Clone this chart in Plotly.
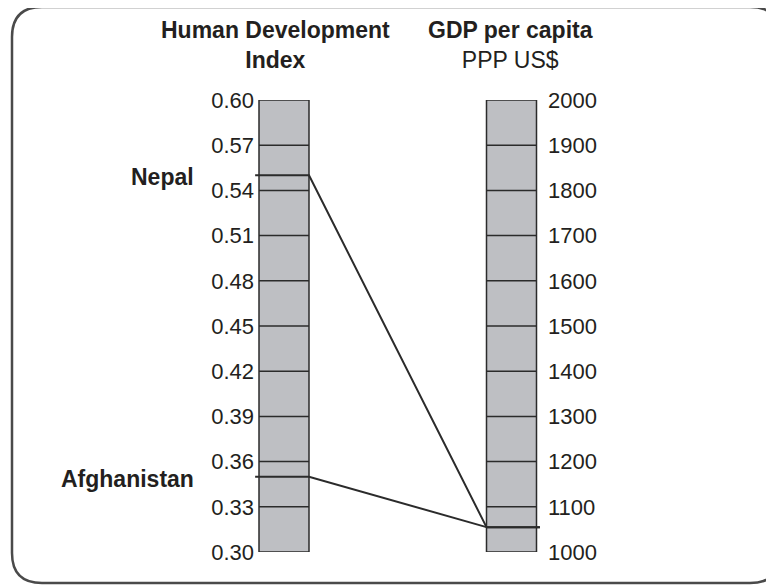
import plotly.graph_objects as go

# ---- data ----
hdi_ticks = [0.30, 0.33, 0.36, 0.39, 0.42, 0.45, 0.48, 0.51, 0.54, 0.57, 0.60]
gdp_ticks = [1000, 1100, 1200, 1300, 1400, 1500, 1600, 1700, 1800, 1900, 2000]
countries = ["Nepal", "Afghanistan"]
country_hdi = [0.55, 0.35]
country_gdp = [1055, 1055]

hdi_range = [0.30, 0.60]
gdp_range = [1000, 2000]

W, H = 774, 585
OFF = 8  # page body margin
FONT = "Liberation Sans, Arial, sans-serif"
TXT = "#231f20"
LINE = "#2b2b2b"
FILL = "#bebfc3"


def px(x):
    return (x - OFF) / W


def py(y):
    return 1 - (y - OFF) / H


# x positions: 0 = HDI scale, 1 = GDP scale
px_per_unit = 227.5
x_left_px = 284.0 - OFF
xr = [-x_left_px / px_per_unit, (W - x_left_px) / px_per_unit]
bw = 50 / px_per_unit
half = bw / 2


def gdp_to_hdi(v):
    return hdi_range[0] + (v - gdp_range[0]) / (gdp_range[1] - gdp_range[0]) * (hdi_range[1] - hdi_range[0])


fig = go.Figure()

# scale bars
fig.add_trace(go.Bar(x=[0], y=[hdi_range[1] - hdi_range[0]], base=[hdi_range[0]], width=bw,
                     marker=dict(color=FILL, line=dict(color=LINE, width=1.5)), yaxis="y",
                     hoverinfo="skip", showlegend=False))
fig.add_trace(go.Bar(x=[1], y=[gdp_range[1] - gdp_range[0]], base=[gdp_range[0]], width=bw,
                     marker=dict(color=FILL, line=dict(color=LINE, width=1.5)), yaxis="y2",
                     hoverinfo="skip", showlegend=False))

# internal tick lines
lx, ly = [], []
for t in hdi_ticks[1:-1]:
    lx += [-half, half, None]
    ly += [t, t, None]
fig.add_trace(go.Scatter(x=lx, y=ly, mode="lines", line=dict(color=LINE, width=1.5),
                         yaxis="y", hoverinfo="skip", showlegend=False))
rx, ry = [], []
for t in gdp_ticks[1:-1]:
    rx += [1 - half, 1 + half, None]
    ry += [t, t, None]
fig.add_trace(go.Scatter(x=rx, y=ry, mode="lines", line=dict(color=LINE, width=1.5),
                         yaxis="y2", hoverinfo="skip", showlegend=False))

# country lines
for name, h, g in zip(countries, country_hdi, country_gdp):
    fig.add_trace(go.Scatter(x=[-half - 0.017, half, 1 - half], y=[h, h, gdp_to_hdi(g)],
                             mode="lines", line=dict(color=LINE, width=2),
                             yaxis="y", hoverinfo="skip", showlegend=False))
    fig.add_trace(go.Scatter(x=[1 - half, 1 + half + 0.015], y=[g, g],
                             mode="lines", line=dict(color=LINE, width=2),
                             yaxis="y2", hoverinfo="skip", showlegend=False))
    fig.add_annotation(x=px(196), xref="paper", xanchor="right", y=h, yref="y",
                       yshift=-2, text=f"<b>{name}</b>", showarrow=False,
                       font=dict(family=FONT, size=23, color=TXT))

dom = [py(552), py(100)]

fig.update_layout(
    width=W, height=H, margin=dict(l=0, r=0, t=0, b=0, autoexpand=False),
    paper_bgcolor="white", plot_bgcolor="white", barmode="overlay",
    xaxis=dict(range=xr, visible=False, domain=[0, 1], fixedrange=True, automargin=False),
    yaxis=dict(range=hdi_range, domain=dom, anchor="free", position=px(259),
               showgrid=False, zeroline=False, showline=False, ticks="", automargin=False,
               tickvals=hdi_ticks, ticktext=[f"{t:.2f}" for t in hdi_ticks],
               tickfont=dict(family=FONT, size=22, color=TXT), ticklabelstandoff=5),
    yaxis2=dict(range=gdp_range, overlaying="y", side="right", anchor="free",
                position=px(537), showgrid=False, zeroline=False, showline=False,
                ticks="", automargin=False, tickvals=gdp_ticks,
                ticktext=[str(t) for t in gdp_ticks],
                tickfont=dict(family=FONT, size=22, color=TXT), ticklabelstandoff=10),
    showlegend=False,
)

fig.add_annotation(x=px(275), xref="paper", y=py(45), yref="paper", yanchor="middle",
                   text="<b>Human Development</b><br><b>Index</b>", showarrow=False,
                   font=dict(family=FONT, size=23, color=TXT))
fig.add_annotation(x=px(510), xref="paper", y=py(45), yref="paper", yanchor="middle",
                   text="<b>GDP per capita</b><br>PPP US$", showarrow=False,
                   font=dict(family=FONT, size=23, color=TXT))

# rounded border
L, T, R, B, r = 12, 7, 780, 583, 30
path = (f"M {px(L + r)} {py(T)} L {px(R - r)} {py(T)} Q {px(R)} {py(T)} {px(R)} {py(T + r)} "
        f"L {px(R)} {py(B - r)} Q {px(R)} {py(B)} {px(R - r)} {py(B)} "
        f"L {px(L + r)} {py(B)} Q {px(L)} {py(B)} {px(L)} {py(B - r)} "
        f"L {px(L)} {py(T + r)} Q {px(L)} {py(T)} {px(L + r)} {py(T)} Z")
fig.add_shape(type="path", path=path, xref="paper", yref="paper",
              line=dict(color="#4a4a4a", width=2.5), layer="below")

fig.write_html("out.html")
